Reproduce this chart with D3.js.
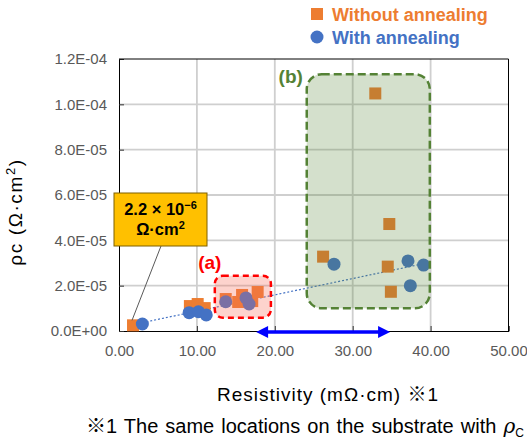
<!DOCTYPE html>
<html>
<head>
<meta charset="utf-8">
<script src="https://cdn.jsdelivr.net/npm/d3@7/dist/d3.min.js"></script>
<style>
  body { margin: 0; background: #fff; }
  text { font-family: "Liberation Sans", Arial, "Noto Sans CJK JP", sans-serif; }
</style>
</head>
<body>
<svg id="chart"></svg>
<script>
// Values
const withoutX = [1.8, 9.1, 10.1, 11.0, 13.7, 15.3, 15.8, 17.1, 17.8, 26.2, 32.9, 34.7, 34.5, 34.9];
const withoutY = [2.5e-6, 1.10e-5, 1.19e-5, 1.01e-5, 1.41e-5, 1.28e-5, 1.59e-5, 1.32e-5, 1.72e-5, 3.28e-5, 1.048e-4, 4.72e-5, 2.84e-5, 1.73e-5];
const withX = [3.0, 9.0, 10.2, 11.2, 13.7, 16.3, 16.7, 27.6, 37.1, 39.1, 37.4];
const withY = [3.1e-6, 8.1e-6, 8.5e-6, 7.1e-6, 1.29e-5, 1.46e-5, 1.19e-5, 2.95e-5, 3.09e-5, 2.91e-5, 2.0e-5];
const trendX = [3.0, 39.1];
const trendY = [3.7e-6, 2.97e-5];
const xTicks = [0, 10, 20, 30, 40, 50];
const yTicks = [0, 2e-5, 4e-5, 6e-5, 8e-5, 1e-4, 1.2e-4];
const regionA = [12.3, 19.5, 5.9e-6, 2.44e-5];   // x0, x1, y0, y1
const regionB = [24.1, 39.9, 1.0e-5, 1.133e-4];
const arrowX = [17.6, 34.8];

const width = 527, height = 443;
const svg = d3.select('#chart').attr('width', width).attr('height', height);

const x = d3.scaleLinear().domain([0, 50]).range([119, 508.5]);
const y = d3.scaleLinear().domain([0, 1.2e-4]).range([331, 59]);

const orange = '#ED7D31', blue = '#4472C4';

// tick formatting like Excel: 1.2E-04
function sci(d) {
    const parts = d.toExponential(1).split('e');
    const e = +parts[1];
    return parts[0] + 'E' + (e < 0 ? '-' : '+') + String(Math.abs(e)).padStart(2, '0');
}

// gridlines
svg.append('g').selectAll('line').data(xTicks.slice(1, -1)).join('line')
    .attr('x1', d => x(d)).attr('x2', d => x(d))
    .attr('y1', y(1.2e-4)).attr('y2', y(0))
    .attr('stroke', '#CFCFCF').attr('stroke-width', 1.8);
svg.append('g').selectAll('line').data(yTicks.slice(1, -1)).join('line')
    .attr('y1', d => y(d)).attr('y2', d => y(d))
    .attr('x1', x(0)).attr('x2', x(50))
    .attr('stroke', '#CFCFCF').attr('stroke-width', 1.8);

// axes
const xAxis = svg.append('g').attr('transform', `translate(0,${y(0)})`)
    .call(d3.axisBottom(x).tickValues(xTicks).tickFormat(d3.format('.2f')).tickSize(-5).tickPadding(14));
const yAxis = svg.append('g').attr('transform', `translate(${x(0)},0)`)
    .call(d3.axisLeft(y).tickValues(yTicks).tickFormat(sci).tickSize(-5).tickPadding(12));
[xAxis, yAxis].forEach(a => {
    a.select('.domain').attr('stroke', '#000');
    a.selectAll('.tick line').attr('stroke', '#333');
    a.selectAll('.tick text').attr('fill', '#595959').style('font-size', '15px')
        .style('font-family', '"Liberation Sans", Arial, sans-serif');
});
// top and right border
svg.append('line').attr('x1', x(0)).attr('x2', x(50)).attr('y1', y(1.2e-4)).attr('y2', y(1.2e-4)).attr('stroke', '#000');
svg.append('line').attr('x1', x(50)).attr('x2', x(50)).attr('y1', y(1.2e-4)).attr('y2', y(0)).attr('stroke', '#000');

// trend line (with annealing)
svg.append('path')
    .datum(trendX.map((d, i) => [d, trendY[i]]))
    .attr('d', d3.line().x(d => x(d[0])).y(d => y(d[1])))
    .attr('fill', 'none').attr('stroke', blue).attr('stroke-width', 1.2)
    .attr('stroke-dasharray', '2,2');

// points
const sq = 12;
svg.append('g').selectAll('rect').data(withoutX).join('rect')
    .attr('x', (d, i) => x(d) - sq / 2).attr('y', (d, i) => y(withoutY[i]) - sq / 2)
    .attr('width', sq).attr('height', sq).attr('fill', orange);
svg.append('g').selectAll('circle').data(withX).join('circle')
    .attr('cx', d => x(d)).attr('cy', (d, i) => y(withY[i])).attr('r', 6.5)
    .attr('fill', blue);

// highlighted regions, drawn over the points
svg.append('rect')
    .attr('x', x(regionA[0])).attr('y', y(regionA[3]))
    .attr('width', x(regionA[1]) - x(regionA[0])).attr('height', y(regionA[2]) - y(regionA[3]))
    .attr('rx', 8)
    .attr('fill', 'rgb(250,110,90)').attr('fill-opacity', 0.3)
    .attr('stroke', '#FF0000').attr('stroke-width', 2.5).attr('stroke-dasharray', '6,4');
svg.append('rect')
    .attr('x', x(regionB[0])).attr('y', y(regionB[3]))
    .attr('width', x(regionB[1]) - x(regionB[0])).attr('height', y(regionB[2]) - y(regionB[3]))
    .attr('rx', 15)
    .attr('fill', '#548235').attr('fill-opacity', 0.25)
    .attr('stroke', '#548235').attr('stroke-width', 2.5).attr('stroke-dasharray', '8,4');

svg.append('text')
    .attr('x', x(regionA[0]) - 5).attr('y', y(regionA[3]) - 7)
    .attr('text-anchor', 'middle')
    .style('font-size', '19px').style('font-weight', 'bold').style('fill', '#FF0000')
    .text('(a)');
svg.append('text')
    .attr('x', x(regionB[0]) - 16).attr('y', y(regionB[3]) + 9)
    .attr('text-anchor', 'middle')
    .style('font-size', '19px').style('font-weight', 'bold').style('fill', '#548235')
    .text('(b)');

// blue double arrow under the axis
const ay = y(0) + 1;
svg.append('line')
    .attr('x1', x(arrowX[0]) + 8).attr('x2', x(arrowX[1]) - 8)
    .attr('y1', ay).attr('y2', ay)
    .attr('stroke', '#0000FF').attr('stroke-width', 3.5);
svg.append('path')
    .attr('d', `M${x(arrowX[0])},${ay} l12,-6 l0,12 Z M${x(arrowX[1])},${ay} l-12,-6 l0,12 Z`)
    .attr('fill', '#0000FF');

// callout for the lowest value
const bx = 114, by = 193, bw = 93, bh = 53;
svg.append('line')
    .attr('x1', bx + 47).attr('y1', by + bh)
    .attr('x2', x(withoutX[0]) - 1).attr('y2', y(withoutY[0]) - 5)
    .attr('stroke', '#595959').attr('stroke-width', 1);
svg.append('rect')
    .attr('x', bx).attr('y', by).attr('width', bw).attr('height', bh)
    .attr('fill', '#FFC000').attr('stroke', '#7F6000').attr('stroke-width', 1);
const call = svg.append('text').attr('text-anchor', 'middle')
    .style('font-size', '16.5px').style('font-weight', 'bold').style('fill', '#000');
const l1 = call.append('tspan').attr('x', bx + bw / 2).attr('y', by + 22).text('2.2 × 10');
l1.append('tspan').attr('dy', -6).style('font-size', '11px').text('−6');
const l2 = call.append('tspan').attr('x', bx + bw / 2).attr('y', by + 42).text('Ω·cm');
l2.append('tspan').attr('dy', -6).style('font-size', '11px').text('2');

// legend
svg.append('rect').attr('x', 311).attr('y', 8).attr('width', 12).attr('height', 12).attr('fill', orange);
svg.append('text').attr('x', 332).attr('y', 20.5)
    .style('font-size', '18px').style('font-weight', 'bold').style('fill', orange)
    .text('Without annealing');
svg.append('circle').attr('cx', 317).attr('cy', 37).attr('r', 6.5).attr('fill', blue);
svg.append('text').attr('x', 332).attr('y', 43.5)
    .style('font-size', '18px').style('font-weight', 'bold').style('fill', blue)
    .text('With annealing');

// axis titles
const yt = svg.append('text')
    .attr('transform', 'translate(22,212) rotate(-90)')
    .attr('text-anchor', 'middle')
    .style('font-size', '19px').style('letter-spacing', '1.6px').style('fill', '#000')
    .text('ρc (Ω·cm');
yt.append('tspan').attr('dy', -7).style('font-size', '13px').text('2');
yt.append('tspan').attr('dy', 7).text(')');

svg.append('text')
    .attr('x', 328).attr('y', 400.5)
    .attr('text-anchor', 'middle')
    .style('font-size', '19px').style('letter-spacing', '1px').style('fill', '#000')
    .text('Resistivity (mΩ·cm) ※1');

// footnote
const fn = svg.append('text')
    .attr('x', 86).attr('y', 433)
    .style('font-size', '20px').style('word-spacing', '1.5px').style('fill', '#000')
    .text('※1 The same locations on the substrate with ');
fn.append('tspan').style('font-style', 'italic').style('font-family', '"DejaVu Serif", serif').text('ρ');
fn.append('tspan').attr('dy', 4).style('font-size', '12px').text('C');
</script>
</body>
</html>
